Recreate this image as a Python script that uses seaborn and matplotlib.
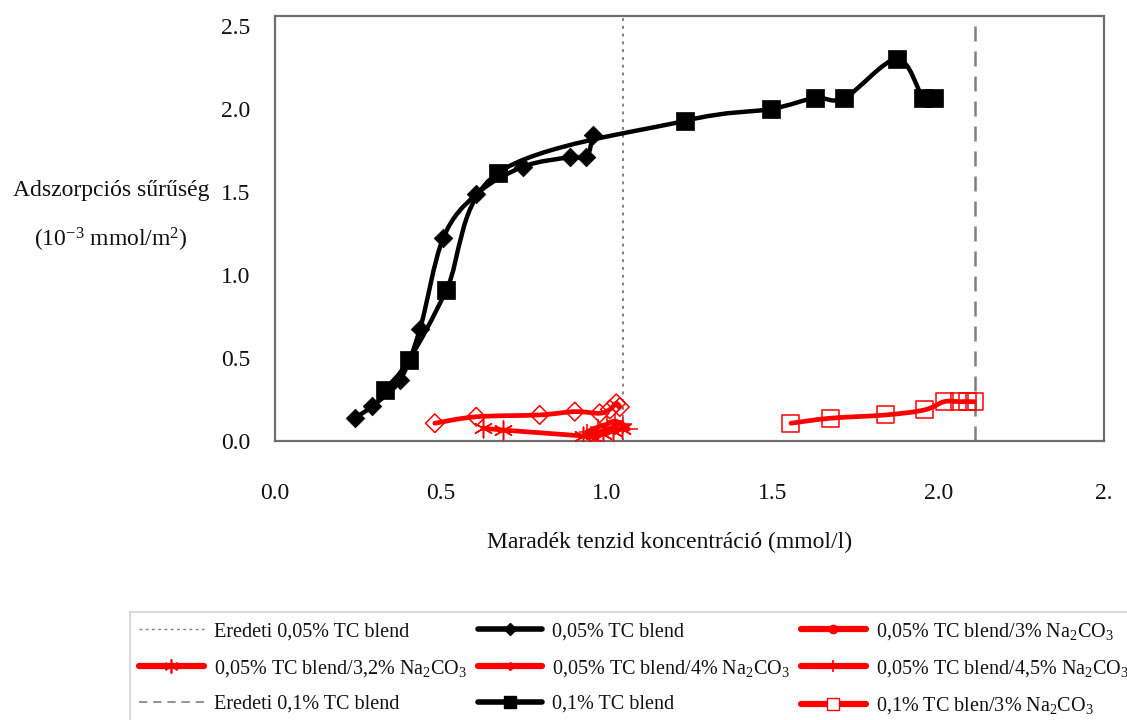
import numpy as np
import matplotlib
matplotlib.use("Agg")
import matplotlib.pyplot as plt
from matplotlib.path import Path
from matplotlib.patches import PathPatch
from matplotlib.lines import Line2D
import seaborn as sns

# Original surfactant concentrations (vertical reference lines), mmol/l
orig_005 = 1.05
orig_01 = 2.11

# 0,05% TC blend
x_005 = [0.241, 0.294, 0.377, 0.437, 0.507, 0.607, 0.748, 0.889, 0.939, 0.959]
y_005 = [0.139, 0.211, 0.367, 0.673, 1.221, 1.486, 1.652, 1.709, 1.709, 1.843]

# 0,1% TC blend
x_01 = [0.331, 0.404, 0.517, 0.672, 1.235, 1.496, 1.627, 1.717, 1.876, 1.955, 1.988]
y_01 = [0.307, 0.488, 0.910, 1.614, 1.928, 2.000, 2.066, 2.066, 2.301, 2.066, 2.066]

# 0,05% TC blend / 3% Na2CO3
x_005_3 = [0.482, 0.607, 0.798, 0.904, 0.979, 1.010, 1.029, 1.040]
y_005_3 = [0.107, 0.146, 0.157, 0.177, 0.167, 0.190, 0.227, 0.205]

# 0,05% TC blend / 3,2% Na2CO3
x_005_32 = [0.627, 0.687, 0.930, 0.965, 0.990, 1.020, 1.045]
y_005_32 = [0.078, 0.066, 0.030, 0.020, 0.045, 0.060, 0.075]

# 0,05% TC blend / 4% Na2CO3
x_005_4 = [0.940, 0.975, 1.000, 1.025, 1.050]
y_005_4 = [0.055, 0.085, 0.100, 0.120, 0.095]

# 0,05% TC blend / 4,5% Na2CO3
x_005_45 = [0.955, 0.985, 1.015, 1.045, 1.065]
y_005_45 = [0.040, 0.060, 0.080, 0.105, 0.070]

# 0,1% TC blend / 3% Na2CO3
x_01_3 = [1.556, 1.674, 1.842, 1.958, 2.018, 2.063, 2.087, 2.108]
y_01_3 = [0.107, 0.137, 0.157, 0.187, 0.237, 0.237, 0.237, 0.237]

x_ticks = [0.0, 0.5, 1.0, 1.5, 2.0, 2.5]
x_ticklabels = ["0.0", "0.5", "1.0", "1.5", "2.0", "2."]
y_ticks = [0.0, 0.5, 1.0, 1.5, 2.0, 2.5]
y_ticklabels = ["0.0", "0.5", "1.0", "1.5", "2.0", "2.5"]

labels = [
    "Eredeti 0,05% TC blend",
    "0,05% TC blend",
    "0,05% TC blend/3% Na$_2$CO$_3$",
    "0,05% TC blend/3,2% Na$_2$CO$_3$",
    "0,05% TC blend/4% Na$_2$CO$_3$",
    "0,05% TC blend/4,5% Na$_2$CO$_3$",
    "Eredeti 0,1% TC blend",
    "0,1% TC blend",
    "0,1% TC blen/3% Na$_2$CO$_3$",
]

sns.set_theme(style="white")
plt.rcParams["font.family"] = ["Liberation Serif", "DejaVu Serif"]
plt.rcParams["mathtext.fontset"] = "custom"
plt.rcParams["mathtext.rm"] = "Liberation Serif"
plt.rcParams["mathtext.it"] = "Liberation Serif:italic"

RED = "#ff0000"
BLACK = "#000000"
GRAY = "#808080"

fig = plt.figure(figsize=(11.27, 7.2), dpi=100)
ax = fig.add_axes([275 / 1127, 1 - 441 / 720, (1104 - 275) / 1127, (441 - 16) / 720])


def smooth_path(xs, ys):
    """Cubic Bezier path through the points (spreadsheet-style smoothed line)."""
    pts = np.column_stack([xs, ys]).astype(float)
    n = len(pts)
    verts = [pts[0]]
    codes = [Path.MOVETO]
    for i in range(n - 1):
        p0 = pts[max(i - 1, 0)]
        p1 = pts[i]
        p2 = pts[i + 1]
        p3 = pts[min(i + 2, n - 1)]
        c1 = p1 + (p2 - p0) / 6.0
        c2 = p2 - (p3 - p1) / 6.0
        verts += [c1, c2, p2]
        codes += [Path.CURVE4] * 3
    return Path(verts, codes)


def draw_line(xs, ys, color, lw):
    patch = PathPatch(smooth_path(xs, ys), facecolor="none", edgecolor=color,
                      lw=lw, capstyle="round", joinstyle="round", zorder=2)
    ax.add_patch(patch)


# reference lines for the original concentrations
ax.axvline(orig_005, color=GRAY, lw=1.4, ls=(0, (1.5, 2.5)), zorder=1)
ax.axvline(orig_01, color=GRAY, lw=1.8, ls=(0, (6, 4)), zorder=1)

# red series
for xs, ys in [(x_005_3, y_005_3), (x_005_32, y_005_32), (x_005_4, y_005_4),
               (x_005_45, y_005_45), (x_01_3, y_01_3)]:
    draw_line(xs, ys, RED, 3.4)

sns.scatterplot(x=x_005_3, y=y_005_3, marker="D", s=90, color="none",
                edgecolor=RED, linewidth=1.1, ax=ax, zorder=3)
sns.scatterplot(x=x_005_32, y=y_005_32, marker=(6, 2, 0), s=180, color=RED,
                edgecolor=RED, linewidth=1.1, ax=ax, zorder=3)
sns.scatterplot(x=x_005_4, y=y_005_4, marker="+", s=140, color=RED,
                edgecolor=RED, linewidth=1.1, ax=ax, zorder=3)
sns.scatterplot(x=x_005_45, y=y_005_45, marker="_", s=200, color=RED,
                edgecolor=RED, linewidth=1.1, ax=ax, zorder=3)
sns.scatterplot(x=x_01_3, y=y_01_3, marker="s", s=150, color="none",
                edgecolor=RED, linewidth=1.1, ax=ax, zorder=3)

# black series
draw_line(x_005, y_005, BLACK, 3.2)
draw_line(x_01, y_01, BLACK, 3.2)
sns.scatterplot(x=x_005, y=y_005, marker="D", s=90, color=BLACK,
                edgecolor=BLACK, linewidth=0.5, ax=ax, zorder=4)
sns.scatterplot(x=x_01, y=y_01, marker="s", s=150, color=BLACK,
                edgecolor=BLACK, linewidth=0.5, ax=ax, zorder=4)

ax.set_xlim(0, 2.5)
ax.set_ylim(0, 2.56)
ax.set_xticks(x_ticks)
ax.set_xticklabels(x_ticklabels)
ax.set_yticks(y_ticks)
ax.set_yticklabels(y_ticklabels)
ax.tick_params(axis="both", which="major", direction="out", length=5,
               width=1, color="#c8c8c8", labelsize=17, labelcolor="#111111")
ax.tick_params(axis="y", pad=13)
ax.tick_params(axis="x", pad=25)
for side in ["left", "bottom", "right", "top"]:
    ax.spines[side].set_visible(True)
    ax.spines[side].set_color("#6e6e6e")
    ax.spines[side].set_linewidth(1.6)

ax.set_xlabel("Maradék tenzid koncentráció (mmol/l)", fontsize=17, color="#111111")
ax.xaxis.set_label_coords(0.476, -0.213)
ax.set_ylabel("Adszorpciós sűrűség\n(10$^{-3}$ mmol/m$^2$)", fontsize=17,
              rotation=0, linespacing=2.2, ha="center", va="center", color="#111111")
ax.yaxis.set_label_coords(-0.198, 0.527)

# legend entries
h = {
    0: Line2D([], [], color=GRAY, lw=1.0, ls=(0, (2, 2.5))),
    1: Line2D([], [], color=BLACK, lw=4, marker="D", ms=6, mfc=BLACK, mec=BLACK),
    2: Line2D([], [], color=RED, lw=4.5, marker="o", ms=6, mfc=RED, mec=RED),
    3: Line2D([], [], color=RED, lw=4.5, marker=(6, 2, 0), ms=10, mec=RED, mew=1.2),
    4: Line2D([], [], color=RED, lw=4.5, marker="D", ms=4, mfc=RED, mec=RED),
    5: Line2D([], [], color=RED, lw=4.5, marker="|", ms=9, mec=RED, mew=1.2),
    6: Line2D([], [], color=GRAY, lw=1.2, ls=(0, (5, 3.5))),
    7: Line2D([], [], color=BLACK, lw=4, marker="s", ms=9, mfc=BLACK, mec=BLACK),
    8: Line2D([], [], color=RED, lw=4.5, marker="s", ms=8, mfc="white", mec=RED),
}
# column-major order for a 3 x 3 legend read row by row
order = [0, 3, 6, 1, 4, 7, 2, 5, 8]
leg = fig.legend([h[i] for i in order], [labels[i] for i in order], ncol=3,
                 loc="upper left", bbox_to_anchor=(130 / 1127, 1 - 612 / 720),
                 frameon=True, fancybox=False, edgecolor="#d0d0d0",
                 fontsize=14.5, handlelength=3.2, handletextpad=0.5,
                 columnspacing=0.55, labelspacing=0.8, borderpad=0.45,
                 borderaxespad=0)
leg.get_frame().set_linewidth(1.5)
for t in leg.get_texts():
    t.set_color("#111111")

fig.savefig("out.png", dpi=100)
